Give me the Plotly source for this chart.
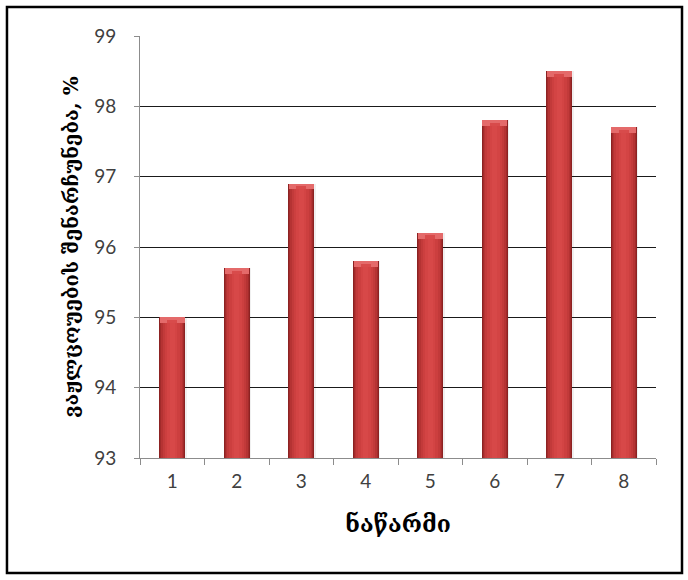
import plotly.graph_objects as go

# Data
samples = ["1", "2", "3", "4", "5", "6", "7", "8"]
retention = [95.0, 95.7, 96.9, 95.8, 96.2, 97.8, 98.5, 97.7]
y_ticks = [93, 94, 95, 96, 97, 98, 99]

y_title = "ვაჟლცოუების შენარჩუნება, %"
x_title = "ნაწარმი"

fig = go.Figure()

# Soft shadow under each bar
fig.add_trace(go.Bar(
    x=samples, y=[v - 93 for v in retention], base=93,
    width=0.43, offset=-0.205, marker=dict(color="rgba(0,0,0,0.06)", line_width=0),
    hoverinfo="skip", showlegend=False,
))

# Cylinder-like shading: stacked bars of shrinking width, darker at the edges
shades = [
    (0.40, "#8c2222"),
    (0.375, "#a22b2b"),
    (0.345, "#b53333"),
    (0.30, "#c23a3a"),
    (0.24, "#cc3f3f"),
    (0.16, "#d34444"),
    (0.08, "#d74848"),
]
for w, c in shades:
    fig.add_trace(go.Bar(
        x=samples, y=[v - 93 for v in retention], base=93,
        width=w, marker=dict(color=c, line_width=0),
        hoverinfo="skip", showlegend=False,
    ))

# Bevelled cap at the top of each bar
cap = 0.08
fig.add_trace(go.Bar(
    x=samples, y=[cap] * len(retention), base=[v - cap for v in retention],
    width=0.38, marker=dict(color="#e46a6a", line_width=0),
    hoverinfo="skip", showlegend=False,
))
fig.add_trace(go.Bar(
    x=samples, y=[cap * 0.55] * len(retention), base=[v - cap for v in retention],
    width=0.16, marker=dict(color="#d84b4b", line_width=0),
    hoverinfo="skip", showlegend=False,
))

tick_font = dict(family="Lato, 'Open Sans', sans-serif", size=19, color="#404040")
georgian = "'DejaVu Serif', 'DejaVu Sans', serif"

fig.update_layout(
    width=688, height=580,
    margin=dict(l=140, r=32, t=36, b=122),
    paper_bgcolor="white", plot_bgcolor="white",
    barmode="overlay",
    bargap=0,
    xaxis=dict(
        type="category",
        tickson="boundaries",
        ticks="outside", ticklen=6, tickcolor="#8c8c8c",
        showline=True, linecolor="#8c8c8c", linewidth=1,
        showgrid=False,
        tickfont=tick_font,
        ticklabelstandoff=6,
        title=dict(text="<b>" + x_title + "</b>", font=dict(family=georgian, size=23, color="#000"), standoff=25),
        range=[-0.5, 7.5],
    ),
    yaxis=dict(
        range=[93, 99],
        tickvals=y_ticks,
        ticks="outside", ticklen=5, tickcolor="#8c8c8c",
        showline=True, linecolor="#8c8c8c", linewidth=1,
        showgrid=True, gridcolor="#1a1a1a", gridwidth=1,
        zeroline=False,
        tickfont=tick_font,
        ticklabelstandoff=14,
        title=dict(text="<b>" + y_title + "</b>", font=dict(family=georgian, size=20, color="#000"), standoff=10),
    ),
    shapes=[
        dict(type="rect", xref="paper", yref="paper",
             x0=-0.2578, x1=1.0504, y0=-0.2725, y1=1.0687,
             line=dict(color="black", width=2.5), fillcolor="rgba(0,0,0,0)", layer="below"),
    ],
)

fig.write_html("out.html")
